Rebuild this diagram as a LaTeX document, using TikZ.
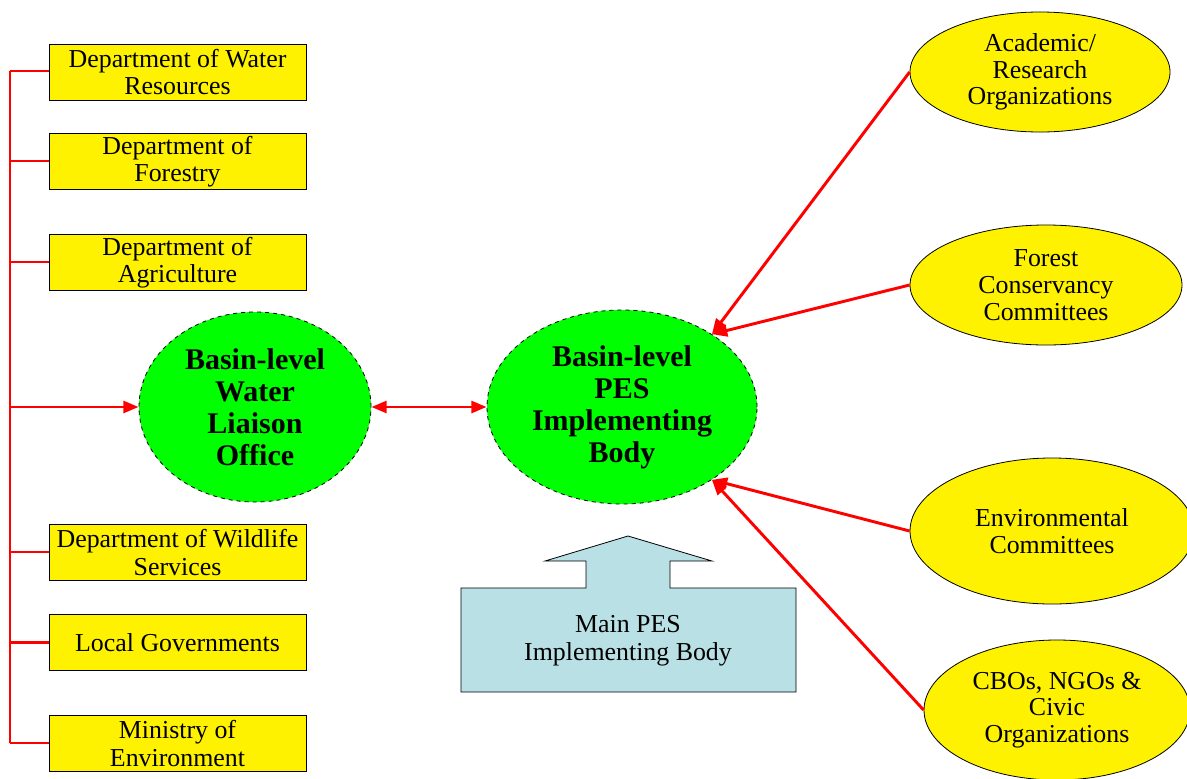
\documentclass[tikz,border=0pt]{standalone}
\usepackage{fontspec}
\setmainfont{Liberation Serif}
\usetikzlibrary{shapes.geometric,arrows.meta}
\definecolor{lblue}{RGB}{185,224,228}
\begin{document}
\begin{tikzpicture}[x=0.75pt,y=-0.75pt,
  dept/.style={draw=black, line width=0.6pt, fill=yellow, minimum width=192.75pt, minimum height=42pt, inner sep=0pt, align=center, font=\fontsize{19.4}{20.3}\selectfont},
  greenell/.style={ellipse, draw=black, dashed, line width=0.6pt, fill=green, inner sep=0pt, align=center, font=\bfseries\fontsize{22.5}{24}\selectfont},
  yell/.style={ellipse, draw=black, line width=0.6pt, fill=yellow, inner sep=0pt, align=center, font=\fontsize{19.4}{20}\selectfont},
  redline/.style={draw=red, line width=2.2pt},
  arr/.style={draw=red, fill=red, line width=2.2pt, -{Triangle[length=11.5pt,width=9pt]}},
  darr/.style={draw=red, fill=red, line width=2.2pt, {Triangle[length=11.5pt,width=9pt]}-{Triangle[length=11.5pt,width=9pt]}}
]
\useasboundingbox (0,0) rectangle (1187,778);

% left boxes
\node[dept] (d1) at (177.5,72) {Department of Water\\Resources};
\node[dept] (d2) at (177.5,161.5) {Department of\\Forestry};
\node[dept] (d3) at (177.5,262.5) {Department of\\Agriculture};
\node[dept] (d4) at (177.5,552.5) {Department of Wildlife\\Services};
\node[dept] (d5) at (177.5,642.5) {Local Governments};
\node[dept] (d6) at (177.5,743.5) {Ministry of\\Environment};

% trunk coordinates
\coordinate (t1) at (10,71);
\coordinate (t2) at (10,161);
\coordinate (t3) at (10,262);
\coordinate (tm) at (10,407);
\coordinate (t4) at (10,552);
\coordinate (t5) at (10,642.5);
\coordinate (t6) at (10,743);

% green ellipses
\node[greenell, minimum width=174pt, minimum height=142.5pt] (wlo) at (255,407) {Basin-level\\Water\\Liaison\\Office};
\node[greenell, minimum width=202.5pt, minimum height=145.5pt] (pes) at (622,407) {Basin-level\\PES\\Implementing\\Body};

% yellow ellipses
\node[yell, minimum width=195pt, minimum height=90pt] (aca) at (1040,72) {Academic/\\Research\\Organizations};
\node[yell, minimum width=204pt, minimum height=90pt] (fcc) at (1046,285) {Forest\\Conservancy\\Committees};
\node[yell, minimum width=213pt, minimum height=109.5pt] (env) at (1052,531) {Environmental\\Committees};
\node[yell, minimum width=199.5pt, minimum height=105pt] (cbo) at (1057,710) {CBOs, NGOs \&\\Civic\\Organizations};

% block arrow
\draw[fill=lblue, draw=black, line width=0.6pt]
  (461,588) -- (586,588) -- (586,561) -- (545,561) -- (628,536) -- (712,561) -- (670,561) -- (670,588) -- (796,588) -- (796,692) -- (461,692) -- cycle;
\node[align=center, font=\fontsize{19.4}{21}\selectfont, inner sep=0pt] (main) at (628,641) {Main PES\\Implementing Body};

% connectors left
\draw[redline] (t1) -- (t6);
\foreach \i in {1,...,6} { \draw[redline] (t\i) -- (d\i.west |- t\i); }
\draw[arr] (tm) -- (wlo.west);
\draw[darr] (wlo.east) -- (pes.west);

% connectors right
\draw[arr] (aca.west) -- (pes.39);
\draw[arr] (fcc.west) -- (pes.39);
\draw[arr] (env.west) -- (pes.-39);
\draw[arr] (cbo.west) -- (pes.-39);
\end{tikzpicture}
\end{document}
